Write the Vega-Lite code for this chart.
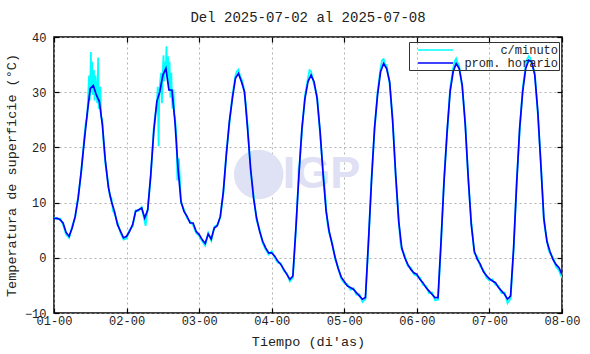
{
"$schema": "https://vega.github.io/schema/vega-lite/v6.json",
"width": 508, "height": 276,
"autosize": {"type": "none"},
"padding": {"left": 54, "top": 37, "right": 28, "bottom": 41},
"background": "white",
"title": {"text": "Del 2025-07-02 al 2025-07-08", "font": "Liberation Mono", "fontSize": 14, "fontWeight": "normal", "color": "#222", "baseline": "alphabetic", "offset": 14, "dy": 19},
"datasets": {
"temp": [
{"t":0,"h":7.1,"m":7.3},{"t":1,"h":7.2,"m":7.0},{"t":2,"h":6.9,"m":7.1},{"t":3,"h":6.3,"m":6.0},{"t":4,"h":4.6,"m":4.2},{"t":5,"h":3.9,"m":3.6},{"t":6,"h":5.4,"m":5.7},{"t":7,"h":7.5,"m":7.3},{"t":8,"h":10.8,"m":11.2},{"t":9,"h":15.7,"m":15.3},{"t":10,"h":21.1,"m":21.8},{"t":11,"h":26.2,"m":25.6},{"t":12,"h":30.7,"m":31.5},{"t":13,"h":31.2,"m":30.6},{"t":14,"h":29.5,"m":30.4},{"t":15,"h":28.3,"m":27.5},{"t":16,"h":24.1,"m":24.8},{"t":17,"h":17.5,"m":17.0},{"t":18,"h":12.7,"m":13.2},{"t":19,"h":10.2,"m":10.8},{"t":20,"h":8.4,"m":8.0},{"t":21,"h":6.0,"m":6.4},{"t":22,"h":4.8,"m":4.5},{"t":23,"h":3.6,"m":3.3},
{"t":24,"h":3.9,"m":3.5},{"t":25,"h":4.8,"m":5.1},{"t":26,"h":6.0,"m":5.7},{"t":27,"h":8.4,"m":8.6},{"t":28,"h":8.7,"m":8.5},{"t":29,"h":9.0,"m":9.2},{"t":30,"h":7.2,"m":6.5},{"t":31,"h":8.7,"m":8.9},{"t":32,"h":15.1,"m":14.6},{"t":33,"h":22.9,"m":23.6},{"t":34,"h":28.3,"m":27.6},{"t":35,"h":30.1,"m":31.2},{"t":36,"h":33.1,"m":34.0},{"t":37,"h":34.3,"m":35.0},{"t":38,"h":30.4,"m":31.5},{"t":39,"h":30.4,"m":29.0},{"t":40,"h":24.7,"m":25.5},{"t":41,"h":16.3,"m":16.8},{"t":42,"h":10.2,"m":10.0},{"t":43,"h":8.4,"m":8.7},{"t":44,"h":7.5,"m":7.2},{"t":45,"h":6.3,"m":6.6},{"t":46,"h":6.3,"m":5.9},{"t":47,"h":4.8,"m":4.5},
{"t":48,"h":4.2,"m":4.0},{"t":49,"h":3.3,"m":3.0},{"t":50,"h":2.6,"m":2.2},{"t":51,"h":4.3,"m":4.5},{"t":52,"h":3.4,"m":3.1},{"t":53,"h":5.4,"m":5.6},{"t":54,"h":5.8,"m":6.0},{"t":55,"h":7.5,"m":7.3},{"t":56,"h":12.0,"m":11.6},{"t":57,"h":18.7,"m":19.2},{"t":58,"h":24.7,"m":24.2},{"t":59,"h":28.9,"m":29.5},{"t":60,"h":32.5,"m":33.0},{"t":61,"h":33.4,"m":34.1},{"t":62,"h":31.9,"m":32.4},{"t":63,"h":30.1,"m":29.6},{"t":64,"h":23.5,"m":24.2},{"t":65,"h":16.3,"m":15.8},{"t":66,"h":10.8,"m":11.3},{"t":67,"h":7.2,"m":6.8},{"t":68,"h":4.8,"m":5.1},{"t":69,"h":3.0,"m":2.7},{"t":70,"h":1.8,"m":1.5},{"t":71,"h":0.9,"m":0.6},
{"t":72,"h":0.9,"m":1.2},{"t":73,"h":0.3,"m":0.0},{"t":74,"h":-0.6,"m":-0.9},{"t":75,"h":-1.2,"m":-1.0},{"t":76,"h":-2.1,"m":-2.4},{"t":77,"h":-3.0,"m":-2.8},{"t":78,"h":-3.9,"m":-4.3},{"t":79,"h":-3.3,"m":-3.6},{"t":80,"h":5.4,"m":5.0},{"t":81,"h":15.1,"m":15.6},{"t":82,"h":23.5,"m":23.0},{"t":83,"h":28.9,"m":29.4},{"t":84,"h":31.9,"m":32.6},{"t":85,"h":33.1,"m":33.8},{"t":86,"h":31.9,"m":31.4},{"t":87,"h":28.9,"m":29.4},{"t":88,"h":22.9,"m":22.4},{"t":89,"h":15.1,"m":15.6},{"t":90,"h":8.4,"m":8.9},{"t":91,"h":4.8,"m":4.5},{"t":92,"h":2.4,"m":2.7},{"t":93,"h":0.0,"m":-0.3},{"t":94,"h":-2.0,"m":-1.8},{"t":95,"h":-3.5,"m":-3.8},
{"t":96,"h":-4.3,"m":-4.6},{"t":97,"h":-5.1,"m":-4.8},{"t":98,"h":-5.4,"m":-5.8},{"t":99,"h":-5.7,"m":-5.5},{"t":100,"h":-6.3,"m":-6.7},{"t":101,"h":-6.9,"m":-6.6},{"t":102,"h":-7.5,"m":-8.0},{"t":103,"h":-7.2,"m":-7.5},{"t":104,"h":3.0,"m":2.6},{"t":105,"h":13.9,"m":14.4},{"t":106,"h":23.5,"m":23.0},{"t":107,"h":29.5,"m":30.0},{"t":108,"h":33.7,"m":34.4},{"t":109,"h":35.2,"m":36.0},{"t":110,"h":34.3,"m":34.9},{"t":111,"h":31.9,"m":31.4},{"t":112,"h":24.7,"m":25.3},{"t":113,"h":15.1,"m":14.6},{"t":114,"h":6.6,"m":7.0},{"t":115,"h":1.8,"m":1.5},{"t":116,"h":0.0,"m":0.4},{"t":117,"h":-1.2,"m":-1.5},{"t":118,"h":-2.1,"m":-1.8},{"t":119,"h":-2.7,"m":-3.0},
{"t":120,"h":-3.0,"m":-3.3},{"t":121,"h":-3.9,"m":-3.6},{"t":122,"h":-4.5,"m":-4.9},{"t":123,"h":-5.4,"m":-5.1},{"t":124,"h":-6.0,"m":-6.4},{"t":125,"h":-6.6,"m":-6.3},{"t":126,"h":-7.2,"m":-7.7},{"t":127,"h":-7.2,"m":-7.6},{"t":128,"h":3.0,"m":2.5},{"t":129,"h":13.9,"m":14.4},{"t":130,"h":22.9,"m":22.4},{"t":131,"h":30.1,"m":30.7},{"t":132,"h":33.7,"m":34.3},{"t":133,"h":35.2,"m":36.1},{"t":134,"h":34.3,"m":34.8},{"t":135,"h":31.3,"m":30.8},{"t":136,"h":24.1,"m":24.7},{"t":137,"h":14.5,"m":14.0},{"t":138,"h":6.0,"m":6.5},{"t":139,"h":1.2,"m":0.8},{"t":140,"h":-0.3,"m":0.2},{"t":141,"h":-1.2,"m":-1.6},{"t":142,"h":-2.5,"m":-2.2},{"t":143,"h":-3.2,"m":-3.6},
{"t":144,"h":-3.8,"m":-4.1},{"t":145,"h":-4.2,"m":-3.9},{"t":146,"h":-4.5,"m":-4.9},{"t":147,"h":-5.4,"m":-5.1},{"t":148,"h":-6.0,"m":-6.4},{"t":149,"h":-6.6,"m":-6.3},{"t":150,"h":-7.5,"m":-8.2},{"t":151,"h":-6.9,"m":-7.4},{"t":152,"h":1.8,"m":1.3},{"t":153,"h":13.3,"m":13.8},{"t":154,"h":23.5,"m":23.0},{"t":155,"h":30.1,"m":30.7},{"t":156,"h":34.3,"m":34.9},{"t":157,"h":35.8,"m":36.5},{"t":158,"h":35.5,"m":35.0},{"t":159,"h":33.1,"m":33.6},{"t":160,"h":26.5,"m":26.0},{"t":161,"h":16.9,"m":17.4},{"t":162,"h":7.2,"m":6.7},{"t":163,"h":3.0,"m":3.4},{"t":164,"h":1.2,"m":0.8},{"t":165,"h":-0.3,"m":0.1},{"t":166,"h":-1.2,"m":-1.6},{"t":167,"h":-1.8,"m":-2.3},{"t":168,"h":-3.0,"m":-3.6},
{"t":10.5,"m":24.5},{"t":11.3,"m":29.5},{"t":11.6,"m":33.0},{"t":11.8,"m":28.5},{"t":12.2,"m":37.3},{"t":12.4,"m":30.0},{"t":12.6,"m":35.5},{"t":12.8,"m":29.5},{"t":13.2,"m":34.0},{"t":13.4,"m":28.5},{"t":13.7,"m":33.0},{"t":14.3,"m":28.0},{"t":14.6,"m":36.3},{"t":14.8,"m":27.0},{"t":15.3,"m":31.0},{"t":15.6,"m":25.5},{"t":16.5,"m":20.0},{"t":18.5,"m":11.0},{"t":19.5,"m":8.5},
{"t":30.3,"m":5.8},{"t":33.5,"m":26.0},{"t":34.3,"m":31.0},{"t":34.6,"m":20.2},{"t":34.8,"m":29.0},{"t":35.4,"m":33.5},{"t":35.7,"m":28.0},{"t":36.2,"m":36.7},{"t":36.5,"m":32.0},{"t":36.8,"m":35.5},{"t":37.2,"m":38.3},{"t":37.4,"m":33.0},{"t":37.7,"m":36.5},{"t":38.2,"m":35.5},{"t":38.5,"m":29.0},{"t":38.8,"m":33.5},{"t":39.2,"m":27.0},{"t":39.5,"m":30.5},{"t":39.8,"m":25.9},{"t":40.5,"m":22.0},{"t":40.8,"m":14.0},{"t":41.3,"m":18.0},
{"t":60.5,"m":33.8},{"t":61.5,"m":33.0},{"t":62.5,"m":31.5},{"t":63.5,"m":27.5},{"t":84.5,"m":34.0},{"t":85.5,"m":32.6},{"t":89.5,"m":12.8},{"t":90.5,"m":6.0},{"t":108.5,"m":35.8},{"t":109.5,"m":35.0},{"t":114.5,"m":3.0},{"t":115.5,"m":1.0},{"t":132.5,"m":35.6},{"t":133.5,"m":35.3},{"t":156.5,"m":36.0},{"t":157.5,"m":36.2},{"t":162.5,"m":4.8},{"t":163.5,"m":1.5},{"t":167.5,"m":-3.0}
],
"logo": [{"x": 67.7, "y": 15.1}],
"logotext": [{"x": 88.5, "y": 15.1, "label": "IGP"}]
},
"resolve": {"axis": {"x": "independent", "y": "independent"}},
"layer": [
{
"data": {"name": "logo"},
"mark": {"type": "point", "filled": true, "size": 2460, "color": "#dfe2f4", "opacity": 1},
"encoding": {
"x": {"field": "x", "type": "quantitative", "scale": {"domain": [0, 168], "nice": false, "zero": false}, "axis": {"orient": "top", "labels": false, "title": null, "grid": false, "domain": false, "values": [0,24,48,72,96,120,144,168], "tickSize": -5}},
"y": {"field": "y", "type": "quantitative", "scale": {"domain": [-10, 40], "nice": false, "zero": false}, "axis": {"orient": "right", "labels": false, "title": null, "grid": false, "domain": false, "values": [-10,0,10,20,30,40], "tickSize": -5}}
}
},
{
"data": {"name": "logotext"},
"mark": {"type": "text", "font": "Liberation Sans", "fontWeight": "bold", "fontSize": 45, "color": "#e0e0f4", "baseline": "middle", "align": "center"},
"encoding": {
"x": {"field": "x", "type": "quantitative", "axis": null},
"y": {"field": "y", "type": "quantitative", "axis": null},
"text": {"field": "label"}
}
},
{
"data": {"name": "temp"},
"mark": {"type": "line", "strokeWidth": 1.8, "clip": true, "invalid": "filter"},
"encoding": {
"x": {"field": "t", "type": "quantitative", "axis": null},
"y": {"field": "m", "type": "quantitative", "axis": null},
"color": {"datum": "c/minuto", "type": "nominal", "scale": {"domain": ["c/minuto", "prom. horario"], "range": ["#00ffff", "#0000ff"]}, "legend": {"title": null, "orient": "none", "legendX": 355, "legendY": 5, "padding": 1, "rowPadding": 0, "strokeColor": "#333", "fillColor": "transparent", "symbolType": "M 0.17 0 L 6 0", "symbolSize": 144, "symbolStrokeWidth": 1.5, "labelFont": "Liberation Mono", "labelFontSize": 12, "labelColor": "#222", "labelAlign": "right", "labelOffset": 134, "zindex": 0}}
}
},
{
"data": {"name": "temp"},
"mark": {"type": "line", "strokeWidth": 1.7, "color": "#0000ff", "clip": true, "invalid": "filter"},
"encoding": {
"x": {"field": "t", "type": "quantitative", "title": "Tiempo (di'as)", "axis": {"orient": "bottom", "values": [0,24,48,72,96,120,144,168], "labelExpr": "'0' + (datum.value/24 + 1) + '-00'", "labelFlush": false, "grid": true, "domain": false, "tickSize": -5, "labelPadding": 7, "titlePadding": 8}},
"y": {"field": "h", "type": "quantitative", "title": "Temperatura de superficie (°C)", "axis": {"orient": "left", "values": [-10,0,10,20,30,40], "grid": true, "domain": false, "tickSize": -5, "labelPadding": 13, "titlePadding": 6}},
"color": {"datum": "prom. horario", "type": "nominal"}
}
}
],
"config": {
"view": {"stroke": "#000", "strokeWidth": 1.5},
"font": "Liberation Mono",
"axis": {"labelFont": "Liberation Mono", "titleFont": "Liberation Mono", "labelFontSize": 12, "titleFontSize": 13.5, "titleFontWeight": "normal", "labelColor": "#222", "titleColor": "#222", "gridColor": "#a0a0a0", "gridDash": [2, 3], "gridWidth": 0.8, "tickColor": "#000", "tickWidth": 1.2}
}
}
